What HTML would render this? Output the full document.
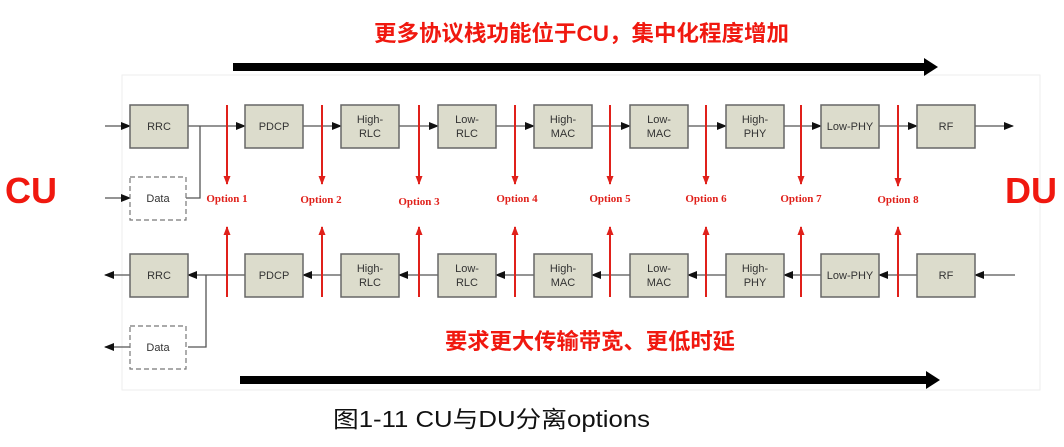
<!DOCTYPE html>
<html><head><meta charset="utf-8"><style>
html,body{margin:0;padding:0;background:#fff;}
svg{display:block;}
.b{fill:#dcdccc;stroke:#666;stroke-width:1.5;}
.t{font-family:"Liberation Sans",Arial,sans-serif;font-size:11px;fill:#333;text-anchor:middle;}
.o{font-family:"Liberation Serif",serif;font-weight:bold;font-size:11px;fill:#e0201a;text-anchor:middle;}
.l{stroke:#555;stroke-width:1.3;fill:none;}
.r{stroke:#e0201a;stroke-width:2;}
</style></head><body>
<svg width="1064" height="447" viewBox="0 0 1064 447" xmlns="http://www.w3.org/2000/svg">
<defs>
<marker id="a" markerWidth="10" markerHeight="8" refX="9" refY="4" orient="auto" markerUnits="userSpaceOnUse"><path d="M0,0 L10,4 L0,8 z" fill="#111"/></marker>
<marker id="ra" markerWidth="10" markerHeight="7" refX="8" refY="3.5" orient="auto" markerUnits="userSpaceOnUse"><path d="M0,0 L9,3.5 L0,7 z" fill="#e0201a"/></marker>
</defs>
<rect x="122" y="75" width="918" height="315" fill="none" stroke="#eee" stroke-width="1"/>
<text x="374" y="41" textLength="415" lengthAdjust="spacingAndGlyphs" style="font-family:'Liberation Sans','Noto Sans CJK SC',sans-serif;font-weight:bold;font-size:22px;fill:#f0180f">更多协议栈功能位于CU，集中化程度增加</text>
<rect x="233" y="63" width="692" height="8" fill="#000"/>
<path d="M924,58 L938,67 L924,76 z" fill="#000"/>
<rect x="240" y="376" width="687" height="8" fill="#000"/>
<path d="M926,371 L940,380 L926,389 z" fill="#000"/>
<text x="5" y="203" style="font-family:'Liberation Sans',sans-serif;font-weight:bold;font-size:36px;fill:#f0180f">CU</text>
<text x="1005" y="203" style="font-family:'Liberation Sans',sans-serif;font-weight:bold;font-size:36px;fill:#f0180f">DU</text>
<text x="445" y="349" textLength="290" lengthAdjust="spacingAndGlyphs" style="font-family:'Liberation Sans','Noto Sans CJK SC',sans-serif;font-weight:bold;font-size:22px;fill:#f0180f">要求更大传输带宽、更低时延</text>
<text x="333" y="427" textLength="317" lengthAdjust="spacingAndGlyphs" style="font-family:'Liberation Sans','Noto Sans CJK SC',sans-serif;font-size:23px;fill:#111">图1-11 CU与DU分离options</text>

<line class="l" x1="105" y1="126" x2="130" y2="126" marker-end="url(#a)"/>
<line class="l" x1="188" y1="126" x2="245" y2="126" marker-end="url(#a)"/>
<polyline class="l" points="200,126 200,198 186,198"/>
<line class="l" x1="105" y1="198" x2="130" y2="198" marker-end="url(#a)"/>
<line class="l" x1="303" y1="126" x2="341" y2="126" marker-end="url(#a)"/>
<line class="l" x1="399" y1="126" x2="438" y2="126" marker-end="url(#a)"/>
<line class="l" x1="496" y1="126" x2="534" y2="126" marker-end="url(#a)"/>
<line class="l" x1="592" y1="126" x2="630" y2="126" marker-end="url(#a)"/>
<line class="l" x1="688" y1="126" x2="726" y2="126" marker-end="url(#a)"/>
<line class="l" x1="784" y1="126" x2="821" y2="126" marker-end="url(#a)"/>
<line class="l" x1="879" y1="126" x2="917" y2="126" marker-end="url(#a)"/>
<line class="l" x1="975" y1="126" x2="1013" y2="126" marker-end="url(#a)"/>
<line class="l" x1="130" y1="275" x2="105" y2="275" marker-end="url(#a)"/>
<line class="l" x1="245" y1="275" x2="188" y2="275" marker-end="url(#a)"/>
<polyline class="l" points="206,275 206,347 188,347"/>
<line class="l" x1="130" y1="347" x2="105" y2="347" marker-end="url(#a)"/>
<line class="l" x1="341" y1="275" x2="303" y2="275" marker-end="url(#a)"/>
<line class="l" x1="438" y1="275" x2="399" y2="275" marker-end="url(#a)"/>
<line class="l" x1="534" y1="275" x2="496" y2="275" marker-end="url(#a)"/>
<line class="l" x1="630" y1="275" x2="592" y2="275" marker-end="url(#a)"/>
<line class="l" x1="726" y1="275" x2="688" y2="275" marker-end="url(#a)"/>
<line class="l" x1="821" y1="275" x2="784" y2="275" marker-end="url(#a)"/>
<line class="l" x1="917" y1="275" x2="879" y2="275" marker-end="url(#a)"/>
<line class="l" x1="1015" y1="275" x2="975" y2="275" marker-end="url(#a)"/>

<rect class="b" x="130" y="105" width="58" height="43"/><text class="t" x="159" y="130">RRC</text>
<rect class="b" x="245" y="105" width="58" height="43"/><text class="t" x="274" y="130">PDCP</text>
<rect class="b" x="341" y="105" width="58" height="43"/><text class="t" x="370" y="123">High-</text><text class="t" x="370" y="137">RLC</text>
<rect class="b" x="438" y="105" width="58" height="43"/><text class="t" x="467" y="123">Low-</text><text class="t" x="467" y="137">RLC</text>
<rect class="b" x="534" y="105" width="58" height="43"/><text class="t" x="563" y="123">High-</text><text class="t" x="563" y="137">MAC</text>
<rect class="b" x="630" y="105" width="58" height="43"/><text class="t" x="659" y="123">Low-</text><text class="t" x="659" y="137">MAC</text>
<rect class="b" x="726" y="105" width="58" height="43"/><text class="t" x="755" y="123">High-</text><text class="t" x="755" y="137">PHY</text>
<rect class="b" x="821" y="105" width="58" height="43"/><text class="t" x="850" y="130">Low-PHY</text>
<rect class="b" x="917" y="105" width="58" height="43"/><text class="t" x="946" y="130">RF</text>
<rect x="130" y="177" width="56" height="43" fill="#fff" stroke="#777" stroke-width="1.2" stroke-dasharray="5,3"/><text class="t" x="158" y="202">Data</text>
<rect class="b" x="130" y="254" width="58" height="43"/><text class="t" x="159" y="279">RRC</text>
<rect class="b" x="245" y="254" width="58" height="43"/><text class="t" x="274" y="279">PDCP</text>
<rect class="b" x="341" y="254" width="58" height="43"/><text class="t" x="370" y="272">High-</text><text class="t" x="370" y="286">RLC</text>
<rect class="b" x="438" y="254" width="58" height="43"/><text class="t" x="467" y="272">Low-</text><text class="t" x="467" y="286">RLC</text>
<rect class="b" x="534" y="254" width="58" height="43"/><text class="t" x="563" y="272">High-</text><text class="t" x="563" y="286">MAC</text>
<rect class="b" x="630" y="254" width="58" height="43"/><text class="t" x="659" y="272">Low-</text><text class="t" x="659" y="286">MAC</text>
<rect class="b" x="726" y="254" width="58" height="43"/><text class="t" x="755" y="272">High-</text><text class="t" x="755" y="286">PHY</text>
<rect class="b" x="821" y="254" width="58" height="43"/><text class="t" x="850" y="279">Low-PHY</text>
<rect class="b" x="917" y="254" width="58" height="43"/><text class="t" x="946" y="279">RF</text>
<rect x="130" y="326" width="56" height="43" fill="#fff" stroke="#777" stroke-width="1.2" stroke-dasharray="5,3"/><text class="t" x="158" y="351">Data</text>

<g>
<line class="r" x1="227" y1="105" x2="227" y2="184" marker-end="url(#ra)"/><line class="r" x1="227" y1="297" x2="227" y2="227" marker-end="url(#ra)"/><text class="o" x="227" y="202">Option 1</text>
<line class="r" x1="322" y1="105" x2="322" y2="184" marker-end="url(#ra)"/><line class="r" x1="322" y1="297" x2="322" y2="227" marker-end="url(#ra)"/><text class="o" x="321" y="203">Option 2</text>
<line class="r" x1="419" y1="105" x2="419" y2="184" marker-end="url(#ra)"/><line class="r" x1="419" y1="297" x2="419" y2="227" marker-end="url(#ra)"/><text class="o" x="419" y="205">Option 3</text>
<line class="r" x1="515" y1="105" x2="515" y2="184" marker-end="url(#ra)"/><line class="r" x1="515" y1="297" x2="515" y2="227" marker-end="url(#ra)"/><text class="o" x="517" y="202">Option 4</text>
<line class="r" x1="610" y1="105" x2="610" y2="184" marker-end="url(#ra)"/><line class="r" x1="610" y1="297" x2="610" y2="227" marker-end="url(#ra)"/><text class="o" x="610" y="202">Option 5</text>
<line class="r" x1="706" y1="105" x2="706" y2="184" marker-end="url(#ra)"/><line class="r" x1="706" y1="297" x2="706" y2="227" marker-end="url(#ra)"/><text class="o" x="706" y="202">Option 6</text>
<line class="r" x1="801" y1="105" x2="801" y2="184" marker-end="url(#ra)"/><line class="r" x1="801" y1="297" x2="801" y2="227" marker-end="url(#ra)"/><text class="o" x="801" y="202">Option 7</text>
<line class="r" x1="898" y1="105" x2="898" y2="186" marker-end="url(#ra)"/><line class="r" x1="898" y1="297" x2="898" y2="227" marker-end="url(#ra)"/><text class="o" x="898" y="203">Option 8</text>
</g>
</svg>
</body></html>
